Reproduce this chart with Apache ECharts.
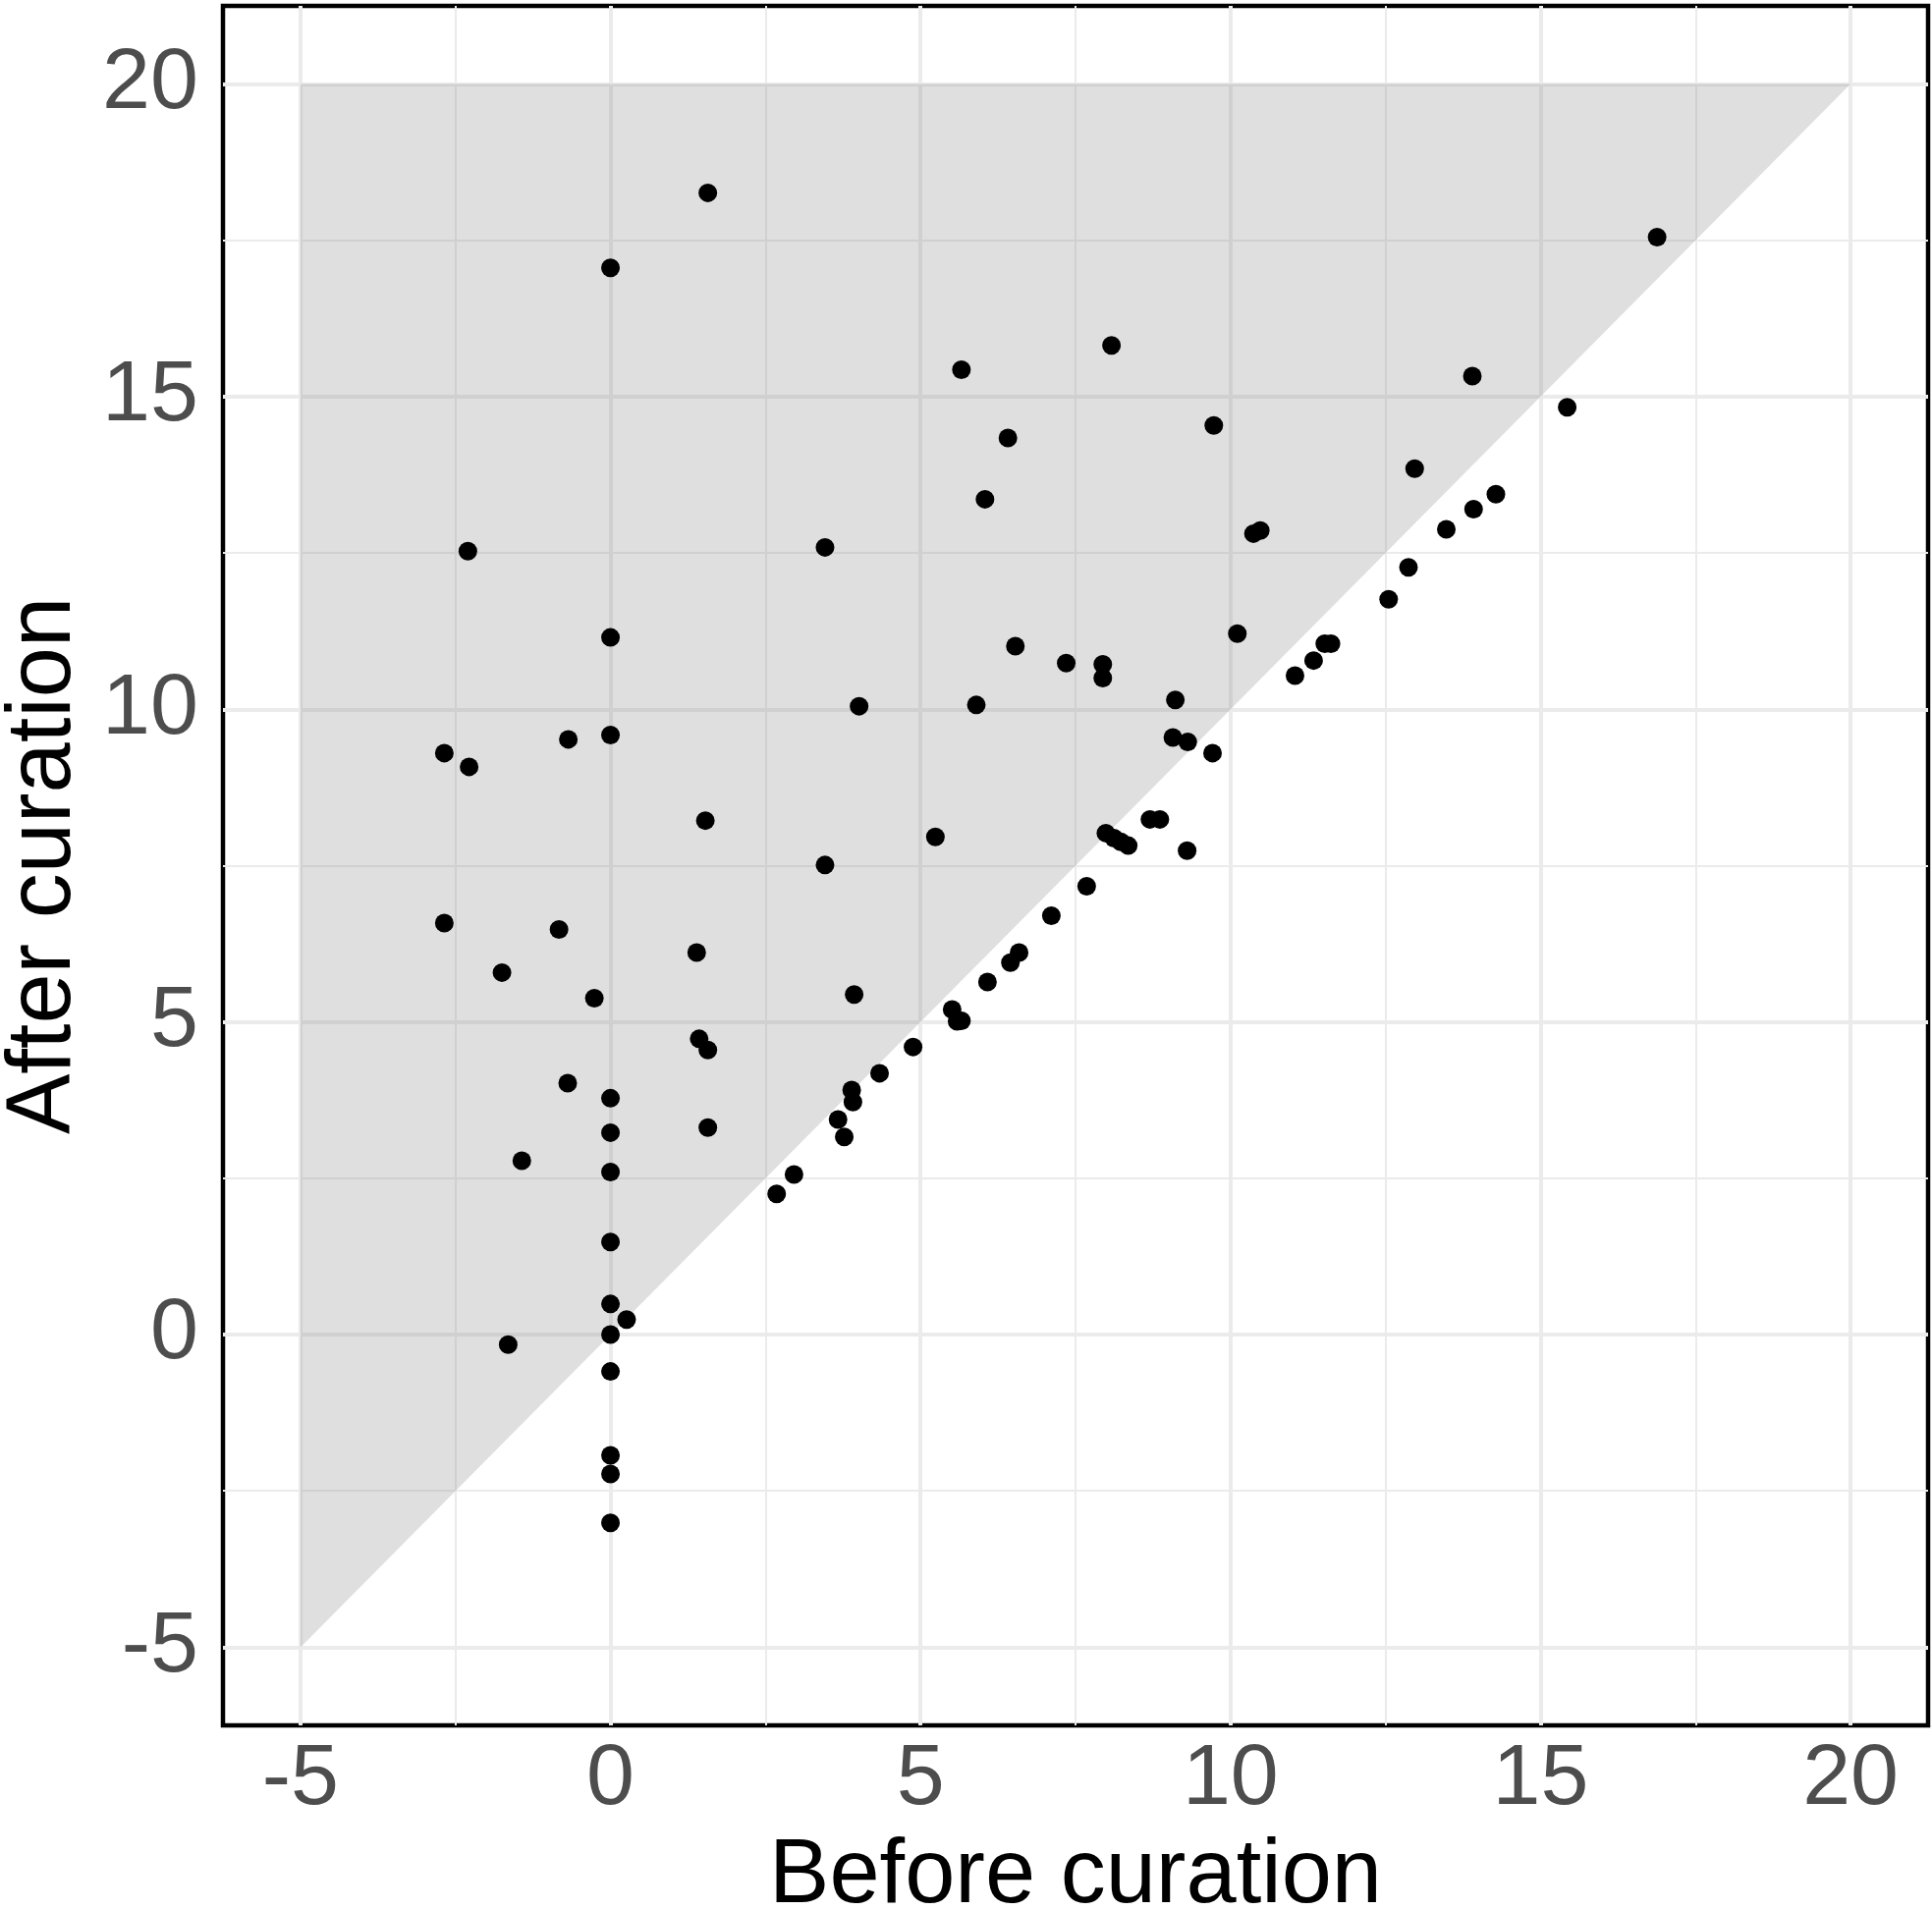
<!DOCTYPE html>
<html lang="en">

<head>
    <meta charset="UTF-8">
    <title>Before vs After curation</title>
    <script src="https://cdnjs.cloudflare.com/ajax/libs/echarts/6.0.0/echarts.min.js"></script>
    <style>
        html, body {
            margin: 0;
            padding: 0;
            background: #ffffff;
        }

        #main {
            width: 1967px;
            height: 1945px;
        }
    </style>
</head>

<body>
    <div id="main"></div>

    <script>
        // values
        const beforeVals = [
            1.57, 0, 16.88, 8.08, 5.66, 13.90, 15.43, 9.73, 6.41, 12.97,
            6.04, 14.28, 13.92, 13.48, 10.48, 10.37, -2.30, 3.46, 12.87, 12.55,
            0, 10.11, 6.53, 11.52, 11.62, 11.34, 7.35, 7.94, 7.94, 11.04,
            4.01, 5.90, 9.11, 9.07, 9.31, 9.71, -2.68, -2.28, -0.68, 0,
            1.53, 8.70, 8.86, 5.24, 7.99, 8.12, 8.23, 8.35, 9.30, 3.46,
            7.68, 7.11, -2.68, -0.83, 1.39, 6.59, 6.45, -1.75, 6.08, -0.26,
            3.93, 5.51, 5.59, 5.66, 1.43, 1.57, 4.88, 4.34, -0.69, 3.89,
            3.91, 0, 3.67, 1.57, 0, 3.77, -1.43, 0, 2.96, 2.68,
            0, 0, 0.26, 0, -1.65, 0, 0, 0, 0
        ];
        const afterVals = [
            18.26, 17.06, 17.55, 15.82, 15.43, 15.33, 14.83, 14.54, 14.34, 13.85,
            13.36, 13.44, 13.20, 12.88, 12.86, 12.81, 12.53, 12.59, 12.27, 11.76,
            11.15, 11.21, 11.01, 11.05, 11.05, 10.78, 10.74, 10.72, 10.50, 10.54,
            10.05, 10.07, 10.15, 9.55, 9.48, 9.30, 9.30, 9.08, 9.52, 9.59,
            8.22, 8.24, 8.24, 7.96, 8.02, 7.94, 7.88, 7.82, 7.74, 7.51,
            7.17, 6.70, 6.58, 6.48, 6.11, 6.11, 5.95, 5.79, 5.64, 5.38,
            5.44, 5.20, 5.01, 5.02, 4.73, 4.55, 4.60, 4.18, 4.02, 3.91,
            3.72, 3.78, 3.44, 3.31, 3.23, 3.16, 2.78, 2.60, 2.56, 2.25,
            1.48, 0.49, 0.24, 0, -0.16, -0.59, -1.93, -2.23, -3.01
        ];

        // shaded region above the y = x line
        const triX = [-5, -5, 20];
        const triY = [-5, 20, 20];

        const tickVals = [-5, 0, 5, 10, 15, 20];
        const majorGrid = [-5, 0, 5, 10, 15, 20];
        const minorGrid = [-2.5, 2.5, 7.5, 12.5, 17.5];

        const fontName = "'Liberation Sans', Arial, sans-serif";

        const chart = echarts.init(document.getElementById('main'));

        const points = beforeVals.map((x, i) => [x, afterVals[i]]);
        const triangle = triX.map((x, i) => [x, triY[i]]);

        // grid lines as mark lines, so ticks can stay at multiples of 5
        const gridLines = [];
        majorGrid.forEach(v => {
            gridLines.push({ xAxis: v, lineStyle: { width: 4 } });
            gridLines.push({ yAxis: v, lineStyle: { width: 4 } });
        });
        minorGrid.forEach(v => {
            gridLines.push({ xAxis: v, lineStyle: { width: 2 } });
            gridLines.push({ yAxis: v, lineStyle: { width: 2 } });
        });

        function axisOpt(name, gap, labelMargin) {
            return {
                type: 'value',
                min: -6.25,
                max: 21.25,
                name: name,
                nameLocation: 'middle',
                nameGap: gap,
                nameTextStyle: {
                    fontSize: 92,
                    color: '#000000',
                    fontFamily: fontName
                },
                axisLine: { show: false },
                axisTick: { show: false },
                splitLine: { show: false },
                axisLabel: {
                    customValues: tickVals,
                    fontSize: 88,
                    color: '#4D4D4D',
                    fontFamily: fontName,
                    margin: labelMargin
                }
            };
        }

        const option = {
            animation: false,
            backgroundColor: '#ffffff',
            grid: {
                left: 227,
                top: 6,
                width: 1736,
                height: 1751,
                containLabel: false,
                outerBoundsMode: 'none',
                show: true,
                borderColor: '#000000',
                borderWidth: 4.5,
                backgroundColor: 'transparent'
            },
            xAxis: axisOpt('Before curation', 109, 12),
            yAxis: axisOpt('After curation', 135, 25),
            series: [
                {
                    type: 'scatter',
                    data: [],
                    z: 1,
                    silent: true,
                    markLine: {
                        silent: true,
                        z: 1,
                        symbol: 'none',
                        animation: false,
                        label: { show: false },
                        emphasis: { disabled: true },
                        lineStyle: { color: '#EBEBEB', type: 'solid' },
                        data: gridLines
                    }
                },
                {
                    type: 'custom',
                    data: triangle,
                    z: 3,
                    silent: true,
                    renderItem: (params, api) => {
                        if (params.dataIndex !== 0) return;
                        const pts = triangle.map(p => api.coord(p));
                        return {
                            type: 'polygon',
                            shape: { points: pts },
                            style: { fill: 'rgba(127,127,127,0.25)' }
                        };
                    }
                },
                {
                    type: 'scatter',
                    data: points,
                    z: 4,
                    symbol: 'circle',
                    symbolSize: 19,
                    itemStyle: { color: '#000000', opacity: 1 }
                }
            ]
        };

        chart.setOption(option);
    </script>
</body>

</html>
